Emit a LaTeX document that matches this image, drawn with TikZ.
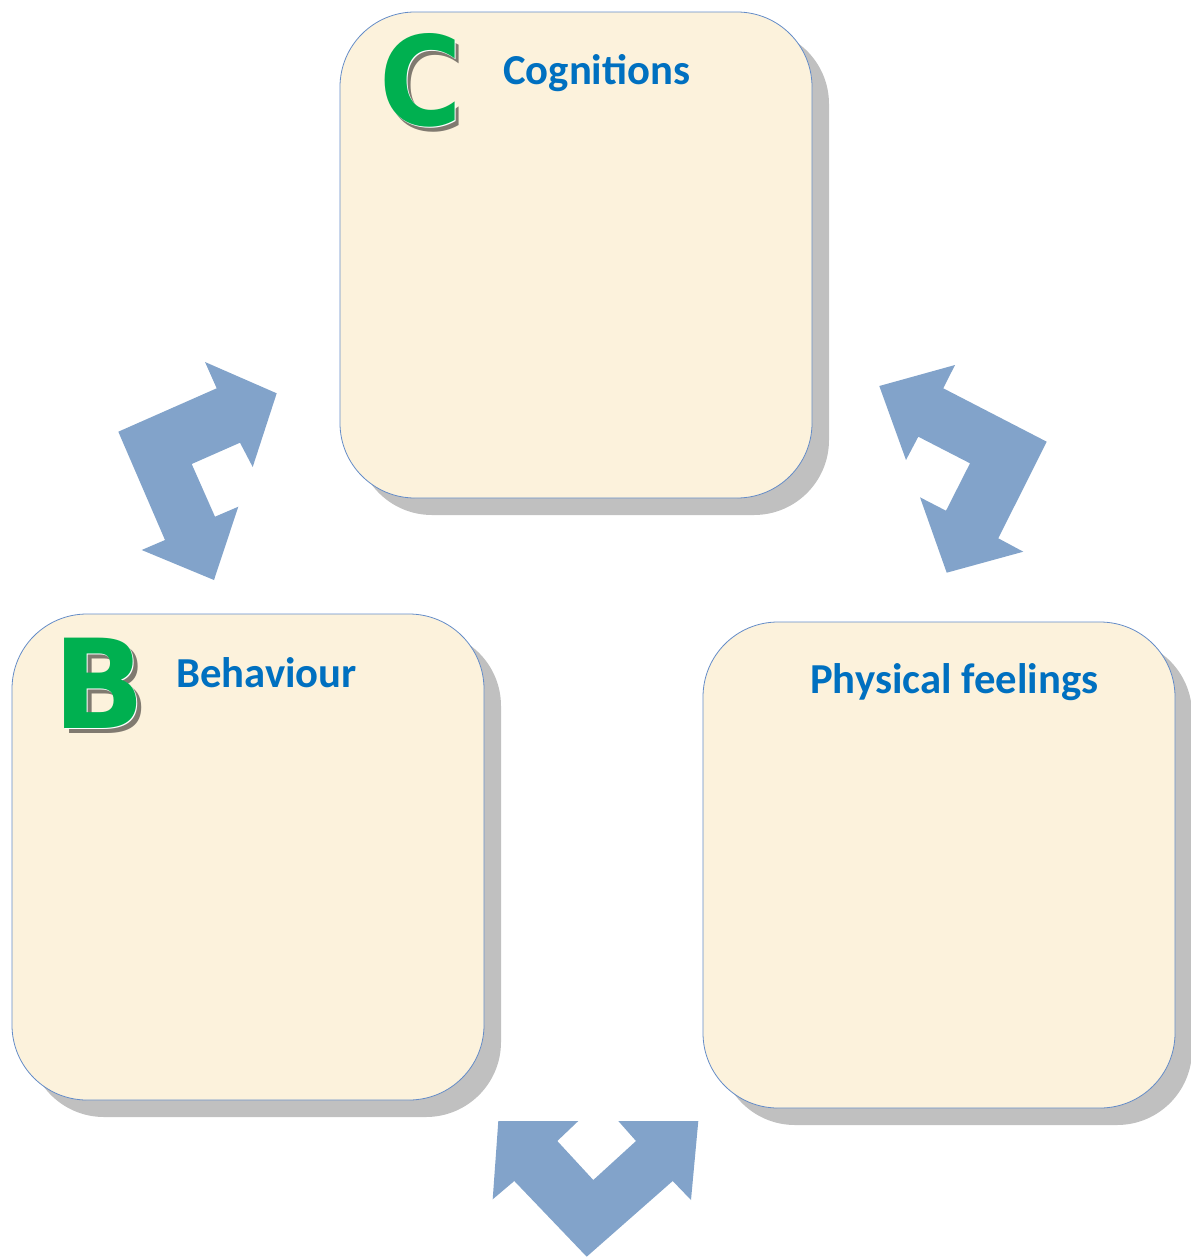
\documentclass[tikz,border=0pt]{standalone}
\usepackage{fontspec}
\setmainfont{Carlito}
\newfontfamily\bigletter{DejaVu Sans}
\usetikzlibrary{shadows}
\definecolor{parch}{RGB}{252,242,220}
\definecolor{boxline}{RGB}{100,140,200}
\definecolor{shadowgray}{RGB}{192,192,192}
\definecolor{arrowblue}{RGB}{130,163,202}
\definecolor{titleblue}{RGB}{0,112,192}
\definecolor{lettergreen}{RGB}{0,176,80}
\definecolor{lettershadow}{RGB}{128,122,112}
\newcommand{\shadowletter}[1]{%
  \makebox[0pt][l]{\hspace{5pt}\raisebox{-5pt}{\color{lettershadow}#1}}%
  \makebox[0pt][l]{\hspace{1.6pt}\raisebox{-1.6pt}{\color{white}#1}}%
  {\color{lettergreen}#1}}
\tikzset{
  panel/.style={draw=boxline, line width=0.8pt, fill=parch, rounded corners=75pt,
    minimum width=472pt, minimum height=486pt, inner sep=0pt,
    drop shadow={shadow xshift=17pt, shadow yshift=-17pt, fill=shadowgray, opacity=1}},
  title/.style={anchor=base west, inner sep=0pt, text=titleblue,
    font=\fontsize{42.7}{48}\selectfont\bfseries},
  bigl/.style={anchor=base west, inner sep=0pt,
    font=\bigletter\fontsize{124}{130}\selectfont\bfseries}
}
\begin{document}
\begin{tikzpicture}[x=1pt,y=-1pt]
\useasboundingbox (0,0) rectangle (1191,1258);
% panels
\node[panel] (cog) at (576,255) {};
\node[panel] (beh) at (248,857) {};
\node[panel] (phy) at (939,865) {};
% big letters
\node[bigl, xscale=0.91] (cletter) at (379,125) {\shadowletter{C}};
\node[bigl, xscale=0.97] (bletter) at (53,728) {\shadowletter{B}};
% titles
\node[title] (cogt) at (503,84) {Cognitions};
\node[title] (beht) at (176,687) {Behaviour};
\node[title] (phyt) at (810,693) {Physical feelings};
% block arrows
\fill[arrowblue] (118.3,431.7) -- (216.7,388.3) -- (205,362) -- (276.7,393.3) -- (252.7,467)
  -- (240,442.7) -- (191.7,464) -- (215,516.7) -- (238.3,506.7) -- (214,580)
  -- (141.7,550) -- (165,540) -- cycle;
\fill[arrowblue] (879.3,386) -- (955,365) -- (943.3,388.3) -- (1046.7,441.7) -- (998.3,538.3)
  -- (1023.3,551.7) -- (946.7,572.7) -- (920,497.3) -- (946,510.7) -- (970,463.3)
  -- (918.3,436.7) -- (906,460) -- cycle;
\fill[arrowblue] (498.3,1121) -- (578.3,1121) -- (557.3,1141) -- (593.3,1180) -- (636,1141)
  -- (618.3,1121) -- (698.3,1121) -- (691,1200) -- (672.7,1181) -- (586.7,1256.7)
  -- (514.3,1181) -- (492.7,1199.3) -- cycle;
\end{tikzpicture}
\end{document}
